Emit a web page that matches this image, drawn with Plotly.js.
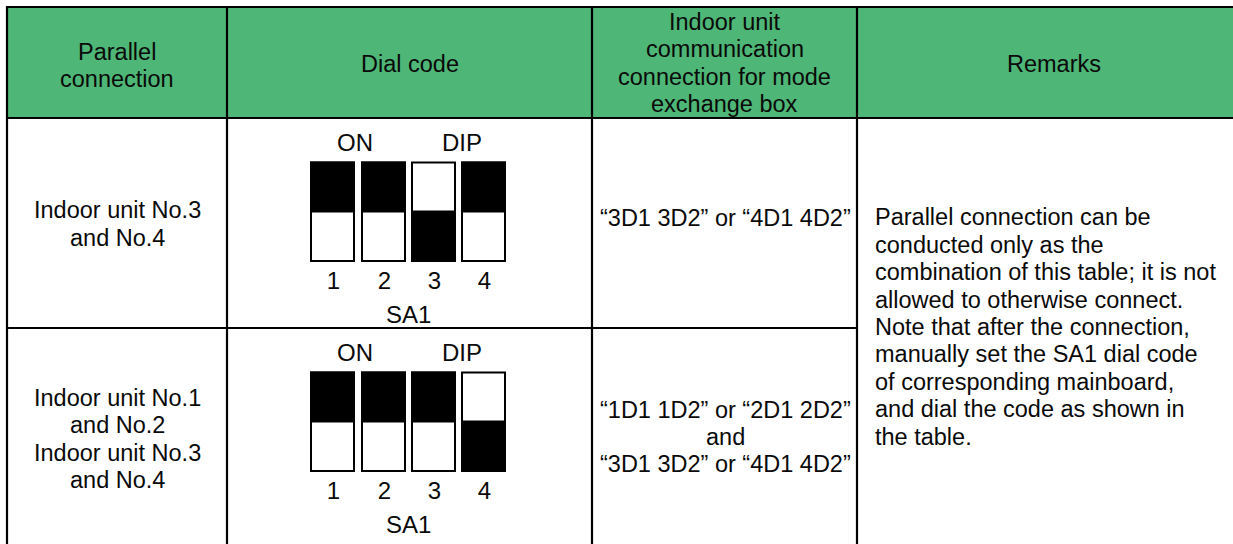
<!DOCTYPE html>
<html>
<head>
<meta charset="utf-8">
<script src="https://cdn.plot.ly/plotly-3.0.1.min.js"></script>
<style>html,body{margin:0;padding:0;background:#fff;}#chart{width:1233px;height:544px;}</style>
</head>
<body>
<div id="chart"></div>
<script>
// ---- data ----
const headerTexts = [
  ["Parallel", "connection"],
  ["Dial code"],
  ["Indoor unit", "communication", "connection for mode", "exchange box"],
  ["Remarks"]
];
const rowLabels = [
  ["Indoor unit No.3", "and No.4"],
  ["Indoor unit No.1", "and No.2", "Indoor unit No.3", "and No.4"]
];
const commTexts = [
  ["“3D1 3D2” or “4D1 4D2”"],
  ["“1D1 1D2” or “2D1 2D2”", "and", "“3D1 3D2” or “4D1 4D2”"]
];
const remarkLines = [
  "Parallel connection can be",
  "conducted only as the",
  "combination of this table; it is not",
  "allowed to otherwise connect.",
  "Note that after the connection,",
  "manually set the SA1 dial code",
  "of corresponding mainboard,",
  "and dial the code as shown in",
  "the table."
];
const dipStates = [[1, 1, 0, 1], [1, 1, 1, 0]]; // 1 = ON (upper half dark)
const switchNumbers = ["1", "2", "3", "4"];
const dipOnLabel = "ON";
const dipLabel = "DIP";
const dipName = "SA1";

// ---- layout geometry (pixels) ----
const colX = [7, 227, 592, 857, 1250];
const rowY = [7, 118, 328, 552];
const lineH = 27.4;
const FONT = "Liberation Sans, Arial, sans-serif";
const FS = 23.5;
const GREEN = "#4eb676";
const INK = "#0a0a0a";

const shapes = [];
const annotations = [];

function addLines(lines, cx, cy, align) {
  const n = lines.length;
  lines.forEach((t, k) => {
    const y = cy + (k - (n - 1) / 2) * lineH;
    annotations.push({
      x: cx, y: y, xref: "x", yref: "y", text: t, showarrow: false,
      xanchor: align === "left" ? "left" : "center", yanchor: "middle",
      font: {family: FONT, size: FS, color: INK}
    });
  });
}

// header background
shapes.push({type: "rect", xref: "x", yref: "y", x0: colX[0], x1: colX[4], y0: rowY[0], y1: rowY[1],
  fillcolor: GREEN, line: {width: 0}, layer: "below"});

// grid lines
const LW = 2.2;
function hline(y, x0, x1) { shapes.push({type: "line", xref: "x", yref: "y", x0: x0, x1: x1, y0: y, y1: y, line: {color: "#000", width: LW}}); }
function vline(x, y0, y1) { shapes.push({type: "line", xref: "x", yref: "y", x0: x, x1: x, y0: y0, y1: y1, line: {color: "#000", width: LW}}); }
hline(rowY[0], colX[0] - 1, colX[4]);
hline(rowY[1], colX[0] - 1, colX[4]);
hline(rowY[2], colX[0] - 1, colX[3]);
colX.slice(0, 4).forEach(x => vline(x, rowY[0] - 1, rowY[3]));

// header text
const headerCY = [65.5, 63.5, 63, 63.5];
headerTexts.forEach((lines, c) => addLines(lines, (colX[c] + colX[c + 1]) / 2, headerCY[c], "center"));

// body text
const rowCY = [224, 439];
rowLabels.forEach((lines, r) => addLines(lines, (colX[0] + colX[1]) / 2, rowCY[r], "center"));
const commCY = [218, 437];
commTexts.forEach((lines, r) => addLines(lines, (colX[2] + colX[3]) / 2 + 0.5, commCY[r], "center"));
addLines(remarkLines, colX[3] + 16, 327, "left");

// DIP switches
const swX0 = [311, 362, 412, 462];
const swW = 43;
const numX = [], numY = [], numT = [];
dipStates.forEach((states, r) => {
  const top = rowY[1 + r];
  const yTop = top + 44.5, yMid = top + 93.5, yBot = top + 143;
  annotations.push({x: 355, y: top + 24.5, xref: "x", yref: "y", text: dipOnLabel, showarrow: false,
    xanchor: "center", yanchor: "middle", font: {family: FONT, size: 24, color: INK}});
  annotations.push({x: 462, y: top + 24.5, xref: "x", yref: "y", text: dipLabel, showarrow: false,
    xanchor: "center", yanchor: "middle", font: {family: FONT, size: 24, color: INK}});
  annotations.push({x: 408, y: top + 196, xref: "x", yref: "y", text: dipName, showarrow: false,
    xanchor: "center", yanchor: "middle", font: {family: FONT, size: 24, color: INK}});
  states.forEach((s, i) => {
    const x0 = swX0[i], x1 = swX0[i] + swW;
    shapes.push({type: "rect", xref: "x", yref: "y", x0: x0, x1: x1, y0: yTop, y1: yBot,
      fillcolor: "#fff", line: {color: "#000", width: 2}});
    shapes.push({type: "rect", xref: "x", yref: "y", x0: x0, x1: x1,
      y0: s ? yTop : yMid, y1: s ? yMid : yBot, fillcolor: "#000", line: {color: "#000", width: 2}});
    numX.push(x0 + swW / 2 + 1);
    numY.push(top + 165);
    numT.push(switchNumbers[i]);
  });
});

const traces = [{
  type: "scatter", mode: "text", x: numX, y: numY, text: numT,
  textposition: "middle center", textfont: {family: FONT, size: 24, color: INK},
  hoverinfo: "skip", showlegend: false
}];

const layout = {
  width: 1233, height: 544,
  margin: {l: 0, r: 0, t: 0, b: 0, pad: 0},
  paper_bgcolor: "#fff", plot_bgcolor: "#fff",
  xaxis: {range: [0, 1233], visible: false, fixedrange: true},
  yaxis: {range: [544, 0], visible: false, fixedrange: true},
  shapes: shapes, annotations: annotations, showlegend: false
};

Plotly.newPlot("chart", traces, layout, {displayModeBar: false, staticPlot: true});
</script>
</body>
</html>
